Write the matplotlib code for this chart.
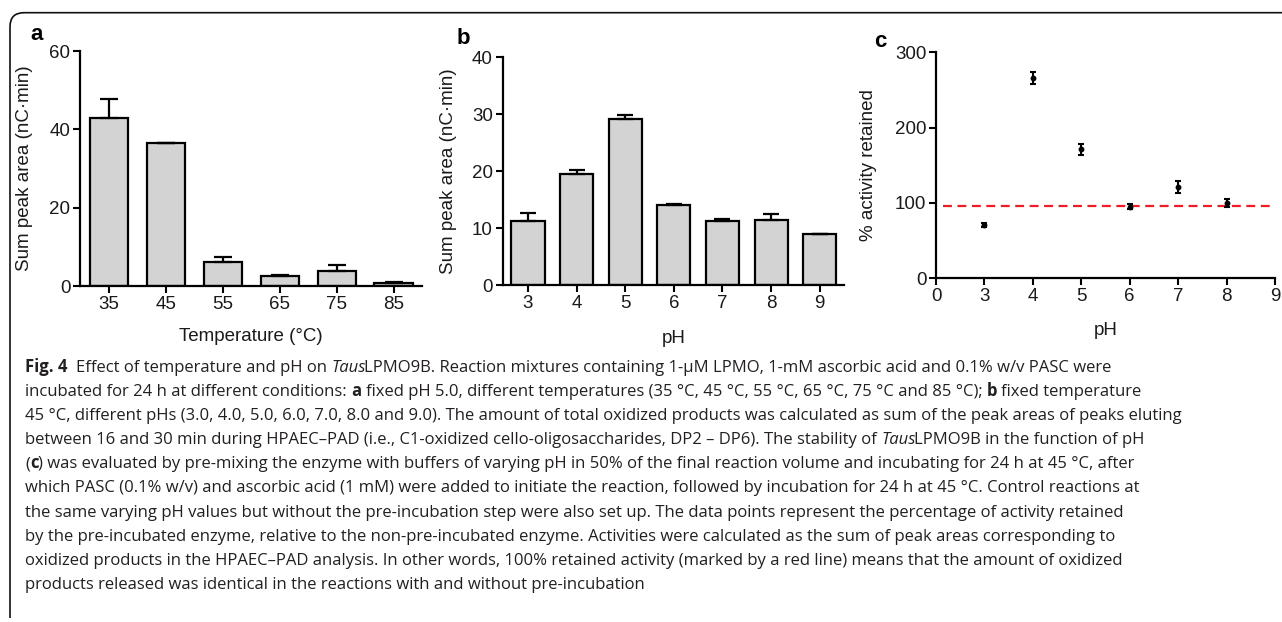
import numpy as np
import matplotlib
matplotlib.use('Agg')
import matplotlib.pyplot as plt
from matplotlib.path import Path
from matplotlib.patches import PathPatch

# ---------------- data ----------------
temp_labels = ['35', '45', '55', '65', '75', '85']
temp_vals = [42.9, 36.4, 6.1, 2.6, 3.9, 0.7]
temp_err = [4.8, 0.2, 1.4, 0.3, 1.4, 0.3]

ph_labels = ['3', '4', '5', '6', '7', '8', '9']
ph_vals = [11.2, 19.5, 29.1, 14.0, 11.2, 11.5, 8.9]
ph_err = [1.5, 0.7, 0.7, 0.2, 0.4, 1.0, 0.1]

stab_ph = [3, 4, 5, 6, 7, 8]
stab_vals = [71, 266, 171, 95, 121, 100]
stab_err = [3, 8, 7, 3, 8, 5]
stab_ticks = [0, 3, 4, 5, 6, 7, 8, 9]
ref_level = 96

caption_lines = [
    [("Fig. 4", 'b'), ("  Effect of temperature and pH on ", 'r'), ("Taus", 'i'),
     ("LPMO9B. Reaction mixtures containing 1-µM LPMO, 1-mM ascorbic acid and 0.1% w/v PASC were", 'r')],
    [("incubated for 24 h at different conditions: ", 'r'), ("a", 'b'),
     (" fixed pH 5.0, different temperatures (35 °C, 45 °C, 55 °C, 65 °C, 75 °C and 85 °C); ", 'r'),
     ("b", 'b'), (" fixed temperature", 'r')],
    [("45 °C, different pHs (3.0, 4.0, 5.0, 6.0, 7.0, 8.0 and 9.0). The amount of total oxidized products was calculated as sum of the peak areas of peaks eluting", 'r')],
    [("between 16 and 30 min during HPAEC–PAD (i.e., C1-oxidized cello-oligosaccharides, DP2 – DP6). The stability of ", 'r'),
     ("Taus", 'i'), ("LPMO9B in the function of pH", 'r')],
    [("(", 'r'), ("c", 'b'),
     (") was evaluated by pre-mixing the enzyme with buffers of varying pH in 50% of the final reaction volume and incubating for 24 h at 45 °C, after", 'r')],
    [("which PASC (0.1% w/v) and ascorbic acid (1 mM) were added to initiate the reaction, followed by incubation for 24 h at 45 °C. Control reactions at", 'r')],
    [("the same varying pH values but without the pre-incubation step were also set up. The data points represent the percentage of activity retained", 'r')],
    [("by the pre-incubated enzyme, relative to the non-pre-incubated enzyme. Activities were calculated as the sum of peak areas corresponding to", 'r')],
    [("oxidized products in the HPAEC–PAD analysis. In other words, 100% retained activity (marked by a red line) means that the amount of oxidized", 'r')],
    [("products released was identical in the reactions with and without pre-incubation", 'r')],
]

# ---------------- figure ----------------
plt.rcParams['font.family'] = ['Liberation Sans', 'DejaVu Sans']
W, H = 1282, 622
fig = plt.figure(figsize=(W / 100, H / 100), dpi=100)
TXT = '#1a1a1a'
FS = 13.5


def ax_px(l, t, r, b):
    return fig.add_axes([l / W, 1 - b / H, (r - l) / W, (b - t) / H])


def style(ax):
    for s in ['top', 'right']:
        ax.spines[s].set_visible(False)
    for s in ['left', 'bottom']:
        ax.spines[s].set_linewidth(1.6)
        ax.spines[s].set_color('black')
    ax.tick_params(direction='out', length=5, width=1.5, labelsize=FS, pad=2,
                   labelcolor=TXT, color='black')
    ax.set_facecolor('none')


# panel a
axa = ax_px(80, 51, 422, 286)
xa = np.arange(len(temp_labels))
axa.bar(xa, temp_vals, width=0.67, color='#d3d3d3', edgecolor='black', linewidth=1.6, zorder=2)
axa.errorbar(xa, temp_vals, yerr=[np.zeros(len(temp_err)), temp_err], fmt='none',
             ecolor='black', elinewidth=1.6, capsize=6.5, capthick=1.6, zorder=3)
axa.set_xlim(-0.51, 5.5)
axa.set_ylim(0, 60)
axa.set_yticks([0, 20, 40, 60])
axa.set_xticks(xa)
axa.set_xticklabels(temp_labels)
style(axa)
axa.set_ylabel('Sum peak area (nC·min)', fontsize=FS, color=TXT)
axa.yaxis.set_label_coords(-0.137, 0.5)
axa.set_xlabel('Temperature (°C)', fontsize=FS, color=TXT)
axa.xaxis.label.set_va('center')
axa.xaxis.set_label_coords(0.5, -0.217)

# panel b
axb = ax_px(502.7, 57.3, 844, 285)
xb = np.arange(len(ph_labels))
axb.bar(xb, ph_vals, width=0.68, color='#d3d3d3', edgecolor='black', linewidth=1.6, zorder=2)
axb.errorbar(xb, ph_vals, yerr=[np.zeros(len(ph_err)), ph_err], fmt='none',
             ecolor='black', elinewidth=1.6, capsize=5.5, capthick=1.6, zorder=3)
axb.set_xlim(-0.52, 6.5)
axb.set_ylim(0, 40)
axb.set_yticks([0, 10, 20, 30, 40])
axb.set_xticks(xb)
axb.set_xticklabels(ph_labels)
style(axb)
axb.set_ylabel('Sum peak area (nC·min)', fontsize=FS, color=TXT)
axb.yaxis.set_label_coords(-0.135, 0.5)
axb.set_xlabel('pH', fontsize=FS, color=TXT)
axb.xaxis.label.set_va('center')
axb.xaxis.set_label_coords(0.5, -0.237)

# panel c (broken axis 0 -> 3)
def fwd(x):
    x = np.asarray(x, dtype=float)
    return np.where(x < 3, x / 3.0, x - 2.0)


def inv(y):
    y = np.asarray(y, dtype=float)
    return np.where(y < 1, y * 3.0, y + 2.0)


axc = ax_px(936, 52.3, 1275, 278.3)
axc.set_xscale('function', functions=(fwd, inv))
axc.set_xlim(0, 9)
axc.set_ylim(0, 300)
axc.axhline(ref_level, xmin=0.02, xmax=1.0, color='#ee1c25', linestyle=(0, (4, 2.5)),
            linewidth=1.6, zorder=2)
axc.errorbar(stab_ph, stab_vals, yerr=stab_err, fmt='o', ms=3.2, color='black',
             ecolor='black', elinewidth=1.5, capsize=2.5, capthick=1.5, zorder=3)
axc.set_xticks(stab_ticks)
axc.set_xticklabels([str(t) for t in stab_ticks])
axc.xaxis.set_minor_locator(matplotlib.ticker.NullLocator())
axc.set_yticks([0, 100, 200, 300])
style(axc)
axc.set_ylabel('% activity retained', fontsize=FS, color=TXT)
axc.yaxis.set_label_coords(-0.175, 0.5)
axc.set_xlabel('pH', fontsize=FS, color=TXT)
axc.xaxis.label.set_va('center')
axc.xaxis.set_label_coords(0.5, -0.229)

# panel letters
for lx, ly, letter in [(36.7, 34, 'a'), (463, 39, 'b'), (880, 41.7, 'c')]:
    fig.text(lx / W, 1 - ly / H, letter, fontsize=16, fontweight='bold',
             ha='center', va='center', color='black')

# frame (rounded top-left corner)
fx, fy, r = 10, 12.7, 14
verts = [(W + 5, fy), (fx + r, fy), (fx, fy), (fx, fy + r), (fx, 618)]
codes = [Path.MOVETO, Path.LINETO, Path.CURVE3, Path.CURVE3, Path.LINETO]
verts_f = [(vx / W, 1 - vy / H) for vx, vy in verts]
fig.add_artist(PathPatch(Path(verts_f, codes), fill=False, edgecolor='#111111',
                         linewidth=1.2, transform=fig.transFigure))

# caption
renderer = fig.canvas.get_renderer()
CAP_FONT = ['Open Sans', 'DejaVu Sans']
CAP_FS = 12.0
styles = {'r': dict(fontweight='normal', fontstyle='normal'),
          'b': dict(fontweight='bold', fontstyle='normal'),
          'i': dict(fontweight='normal', fontstyle='italic')}


def text_w(s, st):
    t = fig.text(0, 0, s, fontsize=CAP_FS, family=CAP_FONT, **styles[st])
    w = t.get_window_extent(renderer).width
    t.remove()
    return w


space_w = text_w('x x', 'r') - text_w('xx', 'r')
cap_x0 = 25
base0 = 372
step = 24.1
for i, runs in enumerate(caption_lines):
    x = cap_x0
    yb = base0 + i * step
    for s, st in runs:
        lead = len(s) - len(s.lstrip(' '))
        trail = len(s) - len(s.rstrip(' '))
        core = s.strip(' ')
        x += lead * space_w
        t = fig.text(x / W, 1 - yb / H, core, fontsize=CAP_FS, family=CAP_FONT,
                     ha='left', va='baseline', color='#231f20', **styles[st])
        x += t.get_window_extent(renderer).width + trail * space_w
        if st == 'i':
            x -= 1.5

fig.savefig('out.png', dpi=100)
